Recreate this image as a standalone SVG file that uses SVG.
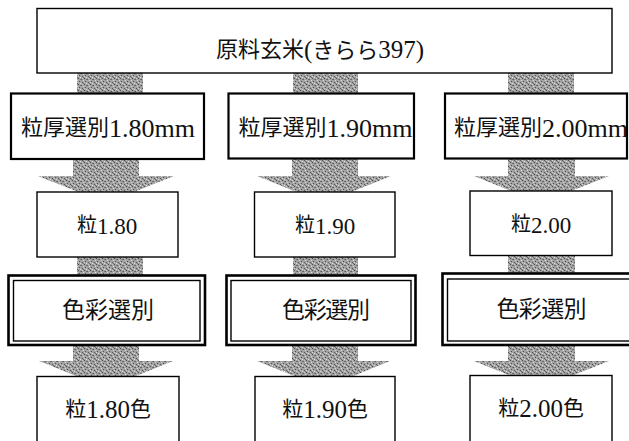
<svg xmlns="http://www.w3.org/2000/svg" width="629" height="441" viewBox="0 0 629 441">
<style>
.box{fill:#fff;stroke:#000;stroke-width:1.4}
.thick{fill:#fff;stroke:#000;stroke-width:2.2}
.outer{fill:#fff;stroke:#000;stroke-width:2.6}
.inner{fill:none;stroke:#000;stroke-width:1.4}
.conn{fill:url(#grain)}
text{font-family:"Liberation Serif","Noto Sans CJK JP",serif;fill:#111;text-anchor:middle}
.t22{font-size:22px}
.t20{font-size:20px}
.t21{font-size:21px}
.t23{font-size:23px;font-family:"Noto Sans CJK JP",sans-serif}
.d25{font-size:25px}
.d23{font-size:23px}
.d26{font-size:26px}
</style>
<defs>
<pattern id="grain" width="6" height="6" patternUnits="userSpaceOnUse">
<rect width="6" height="6" fill="#a2a2a2"/>
<rect x="0" y="0" width="1" height="1" fill="#4a4a4a"/>
<rect x="3" y="1" width="1" height="1" fill="#5e5e5e"/>
<rect x="1" y="3" width="1" height="1" fill="#505050"/>
<rect x="4" y="4" width="1" height="1" fill="#555"/>
<rect x="5" y="2" width="1" height="1" fill="#dcdcdc"/>
<rect x="2" y="5" width="1" height="1" fill="#e2e2e2"/>
<rect x="2" y="1" width="1" height="1" fill="#777"/>
<rect x="5" y="5" width="1" height="1" fill="#6a6a6a"/>
<rect x="0" y="4" width="1" height="1" fill="#cfcfcf"/>
<rect x="4" y="0" width="1" height="1" fill="#c8c8c8"/>
</pattern>
</defs>
<rect width="629" height="441" fill="#fff"/>
<g id="connectors">
<rect class="conn" x="77" y="72" width="66" height="22"/>
<rect class="conn" x="293" y="72" width="65" height="22"/>
<rect class="conn" x="508" y="72" width="66" height="22"/>
<polygon class="conn" points="73,159 139,159 139,176 174,176 106,203 38,176 73,176"/>
<polygon class="conn" points="292,158 358,158 358,176 391,176 324,203 257,176 292,176"/>
<polygon class="conn" points="508,158 575,158 575,176 609,176 541,203 474,176 508,176"/>
<rect class="conn" x="77" y="256" width="66" height="20"/>
<rect class="conn" x="293" y="256" width="65" height="20"/>
<rect class="conn" x="508" y="255" width="67" height="20"/>
<polygon class="conn" points="73,345 139,345 139,361 173,361 106,388 39,361 73,361"/>
<polygon class="conn" points="292,345 358,345 358,361 390,361 324,388 257,361 292,361"/>
<polygon class="conn" points="508,345 575,345 575,361 609,361 541,388 474,361 508,361"/>
</g>
<g id="n0">
<rect class="box" x="37" y="8.5" width="575" height="64.5"/>
<text class="t22" x="320" y="57">原料玄米<tspan class="d25" dy="1">(</tspan>きらら<tspan class="d25">397)</tspan></text>
</g>
<g id="n1a">
<rect class="thick" x="11" y="93.5" width="193" height="65.5"/>
<text class="t22" x="108" y="135">粒厚選別<tspan class="d26" dy="1.5">1.80mm</tspan></text>
</g>
<g id="n1b">
<rect class="thick" x="228.5" y="93.5" width="185.5" height="65"/>
<text class="t22" x="325.5" y="135">粒厚選別<tspan class="d26" dy="1.5">1.90mm</tspan></text>
</g>
<g id="n1c">
<rect class="thick" x="445" y="93.5" width="182" height="65"/>
<text class="t22" x="541" y="135">粒厚選別<tspan class="d26" dy="1.5">2.00mm</tspan></text>
</g>
<g id="n2a">
<rect class="box" x="37" y="192" width="141" height="65"/>
<text class="t20" x="107" y="232">粒<tspan class="d23" dy="1.5">1.80</tspan></text>
</g>
<g id="n2b">
<rect class="box" x="254.5" y="192" width="140.5" height="65"/>
<text class="t20" x="325" y="232">粒<tspan class="d23" dy="1.5">1.90</tspan></text>
</g>
<g id="n2c">
<rect class="box" x="470" y="191" width="142" height="64.5"/>
<text class="t20" x="541" y="231">粒<tspan class="d23" dy="1.5">2.00</tspan></text>
</g>
<g id="n3a">
<rect class="outer" x="8.5" y="275.5" width="196.5" height="69.5"/>
<rect class="inner" x="13.5" y="280.5" width="186.5" height="60.5"/>
<text class="t23" x="108" y="318" textLength="92" lengthAdjust="spacing">色彩選別</text>
</g>
<g id="n3b">
<rect class="outer" x="226.5" y="275.5" width="189" height="69.5"/>
<rect class="inner" x="231" y="280.5" width="180" height="60.5"/>
<text class="t23" x="326" y="318" textLength="88" lengthAdjust="spacing">色彩選別</text>
</g>
<g id="n3c">
<rect class="outer" x="442.5" y="273.5" width="200" height="71.5"/>
<rect class="inner" x="447.5" y="279" width="190" height="62"/>
<text class="t23" x="541.5" y="317" textLength="90" lengthAdjust="spacing">色彩選別</text>
</g>
<g id="n4a">
<rect class="box" x="37" y="376.5" width="142" height="80"/>
<text class="t21" x="108" y="416">粒<tspan class="d25" dy="1.5">1.80</tspan><tspan dy="-1.5">色</tspan></text>
</g>
<g id="n4b">
<rect class="box" x="255" y="376.5" width="140" height="80"/>
<text class="t21" x="325" y="416">粒<tspan class="d25" dy="1.5">1.90</tspan><tspan dy="-1.5">色</tspan></text>
</g>
<g id="n4c">
<rect class="box" x="470" y="375.5" width="142" height="80"/>
<text class="t21" x="541" y="415">粒<tspan class="d25" dy="1.5">2.00</tspan><tspan dy="-1.5">色</tspan></text>
</g>
</svg>
